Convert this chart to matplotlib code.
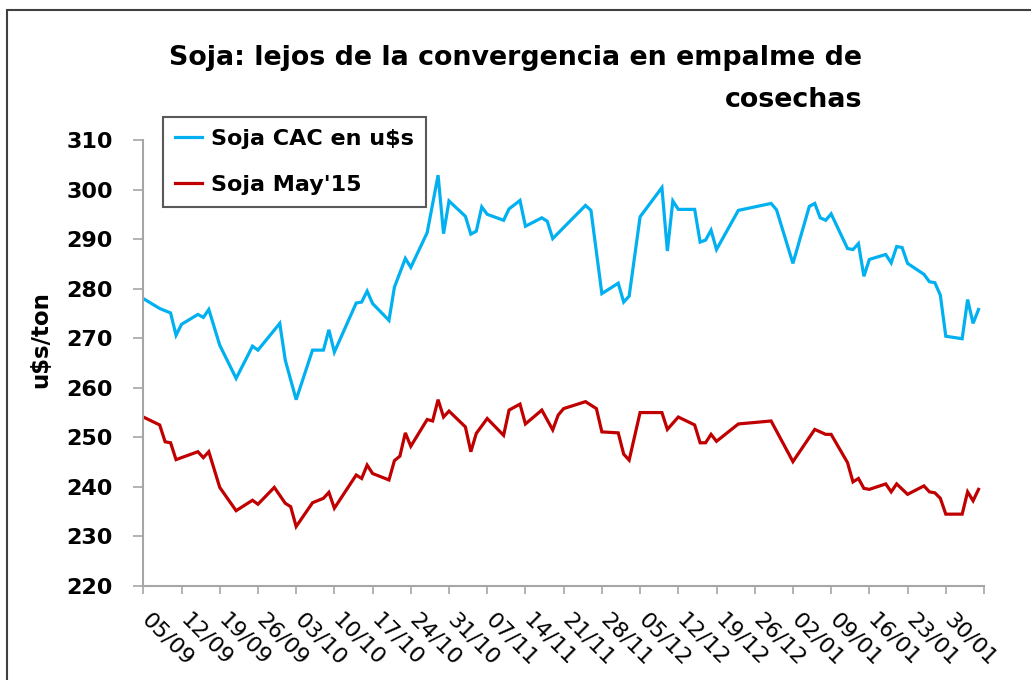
import matplotlib
matplotlib.use("Agg")
import matplotlib.pyplot as plt
import matplotlib.transforms as mtransforms
import pandas as pd
from matplotlib.patches import Rectangle

# Datos (vertices de cada serie)
fechas_cac = ["2014-09-05", "2014-09-08", "2014-09-10", "2014-09-11", "2014-09-12",
              "2014-09-15", "2014-09-16", "2014-09-17", "2014-09-19", "2014-09-22",
              "2014-09-24", "2014-09-25", "2014-09-26", "2014-09-30", "2014-10-01",
              "2014-10-03", "2014-10-06", "2014-10-08", "2014-10-09", "2014-10-10",
              "2014-10-14", "2014-10-15", "2014-10-16", "2014-10-17", "2014-10-20",
              "2014-10-21", "2014-10-23", "2014-10-24", "2014-10-27", "2014-10-29",
              "2014-10-30", "2014-10-31", "2014-11-03", "2014-11-04", "2014-11-05",
              "2014-11-06", "2014-11-07", "2014-11-10", "2014-11-11", "2014-11-13",
              "2014-11-14", "2014-11-17", "2014-11-18", "2014-11-19", "2014-11-25",
              "2014-11-26", "2014-11-28", "2014-12-01", "2014-12-02", "2014-12-03",
              "2014-12-05", "2014-12-09", "2014-12-10", "2014-12-11", "2014-12-12",
              "2014-12-15", "2014-12-16", "2014-12-17", "2014-12-18", "2014-12-19",
              "2014-12-23", "2014-12-29", "2014-12-30", "2015-01-02", "2015-01-05",
              "2015-01-06", "2015-01-07", "2015-01-08", "2015-01-09", "2015-01-12",
              "2015-01-13", "2015-01-14", "2015-01-15", "2015-01-16", "2015-01-19",
              "2015-01-20", "2015-01-21", "2015-01-22", "2015-01-23", "2015-01-26",
              "2015-01-27", "2015-01-28", "2015-01-29", "2015-01-30", "2015-02-02",
              "2015-02-03", "2015-02-04", "2015-02-05"]
soja_cac = [278.0, 276.0, 275.1, 270.6, 272.8,
            274.8, 274.2, 275.8, 268.6, 261.9,
            266.2, 268.4, 267.6, 273.0, 265.6,
            257.6, 267.6, 267.6, 271.7, 267.2,
            277.1, 277.3, 279.5, 277.0, 273.6,
            280.3, 286.1, 284.3, 291.3, 302.9,
            291.1, 297.7, 294.6, 291.0, 291.6,
            296.5, 295.0, 293.8, 296.1, 297.8,
            292.6, 294.3, 293.6, 290.1, 296.8,
            295.8, 279.0, 281.1, 277.3, 278.5,
            294.5, 300.4, 287.6, 297.7, 296.0,
            296.0, 289.4, 289.8, 291.8, 287.9,
            295.8, 297.2, 295.9, 285.1, 296.6,
            297.2, 294.3, 293.8, 295.1, 288.1,
            287.9, 289.1, 282.5, 285.9, 286.9,
            285.2, 288.5, 288.3, 285.1, 282.9,
            281.4, 281.2, 278.7, 270.4, 269.9,
            277.8, 273.0, 275.8]

fechas_may = ["2014-09-05", "2014-09-08", "2014-09-09", "2014-09-10", "2014-09-11",
              "2014-09-15", "2014-09-16", "2014-09-17", "2014-09-19", "2014-09-22",
              "2014-09-25", "2014-09-26", "2014-09-29", "2014-10-01", "2014-10-02",
              "2014-10-03", "2014-10-06", "2014-10-08", "2014-10-09", "2014-10-10",
              "2014-10-14", "2014-10-15", "2014-10-16", "2014-10-17", "2014-10-20",
              "2014-10-21", "2014-10-22", "2014-10-23", "2014-10-24", "2014-10-27",
              "2014-10-28", "2014-10-29", "2014-10-30", "2014-10-31", "2014-11-03",
              "2014-11-04", "2014-11-05", "2014-11-07", "2014-11-10", "2014-11-11",
              "2014-11-13", "2014-11-14", "2014-11-17", "2014-11-19", "2014-11-20",
              "2014-11-21", "2014-11-25", "2014-11-27", "2014-11-28", "2014-12-01",
              "2014-12-02", "2014-12-03", "2014-12-05", "2014-12-09", "2014-12-10",
              "2014-12-12", "2014-12-15", "2014-12-16", "2014-12-17", "2014-12-18",
              "2014-12-19", "2014-12-23", "2014-12-29", "2015-01-02", "2015-01-06",
              "2015-01-08", "2015-01-09", "2015-01-12", "2015-01-13", "2015-01-14",
              "2015-01-15", "2015-01-16", "2015-01-19", "2015-01-20", "2015-01-21",
              "2015-01-23", "2015-01-26", "2015-01-27", "2015-01-28", "2015-01-29",
              "2015-01-30", "2015-02-02", "2015-02-03", "2015-02-04", "2015-02-05"]
soja_may15 = [254.1, 252.5, 249.1, 248.9, 245.5,
              247.1, 245.9, 247.1, 239.9, 235.2,
              237.3, 236.5, 239.9, 236.7, 236.0,
              232.0, 236.8, 237.7, 238.9, 235.7,
              242.4, 241.7, 244.4, 242.7, 241.4,
              245.3, 246.2, 250.9, 248.2, 253.6,
              253.3, 257.6, 254.1, 255.3, 252.1,
              247.1, 250.8, 253.8, 250.4, 255.5,
              256.7, 252.7, 255.5, 251.5, 254.5,
              255.8, 257.2, 255.8, 251.1, 250.9,
              246.6, 245.4, 255.0, 255.0, 251.6,
              254.1, 252.5, 248.9, 248.9, 250.6,
              249.2, 252.7, 253.3, 245.1, 251.6,
              250.6, 250.6, 244.9, 241.0, 241.7,
              239.7, 239.5, 240.6, 239.0, 240.6,
              238.5, 240.2, 239.0, 238.8, 237.7,
              234.5, 234.5, 239.0, 237.2, 239.5]

tick_labels = ["05/09", "12/09", "19/09", "26/09", "03/10", "10/10", "17/10", "24/10",
               "31/10", "07/11", "14/11", "21/11", "28/11", "05/12", "12/12", "19/12",
               "26/12", "02/01", "09/01", "16/01", "23/01", "30/01", ""]
y_ticks = [220, 230, 240, 250, 260, 270, 280, 290, 300, 310]

W, H = 1031, 680
fig = plt.figure(figsize=(W / 100, H / 100), dpi=100)
ax = fig.add_axes([143.3 / W, 1 - 586 / H, (984 - 143.3) / W, (586 - 140) / H])

ax.plot(pd.to_datetime(fechas_cac), soja_cac, color="#00B0F0", lw=2.3,
        label="Soja CAC en u$s", solid_joinstyle="miter")
ax.plot(pd.to_datetime(fechas_may), soja_may15, color="#C00000", lw=2.3,
        label="Soja May'15", solid_joinstyle="miter")

ticks = pd.date_range("2014-09-05", "2015-02-06", freq="7D")
ax.set_xlim(ticks[0], ticks[-1])
ax.set_ylim(220, 310)

for s in ["top", "right"]:
    ax.spines[s].set_visible(False)
for s in ["left", "bottom"]:
    ax.spines[s].set_color("#A6A6A6")
    ax.spines[s].set_linewidth(1.5)
ax.tick_params(axis="y", direction="out", length=7, width=1.2, color="#A6A6A6", pad=15)
ax.tick_params(axis="x", direction="out", length=6, width=1.2, color="#A6A6A6", pad=11)

ax.set_yticks(y_ticks)
ax.set_yticklabels([str(v) for v in y_ticks], fontsize=16, fontweight="bold")
ax.set_xticks(ticks)
ax.set_xticklabels(tick_labels, fontsize=16, rotation=-45, ha="left", va="top",
                   rotation_mode="anchor")
# mover las etiquetas de fecha un poco a la derecha (como en Excel)
shift = mtransforms.ScaledTranslation(9 / 100, 0, fig.dpi_scale_trans)
for lbl in ax.get_xticklabels():
    lbl.set_transform(lbl.get_transform() + shift)

ax.set_ylabel("u$s/ton", fontsize=16.5, fontweight="bold", labelpad=0)
ax.yaxis.set_label_coords(52 / W, 0.5, transform=fig.transFigure)

fig.text(862 / W, 1 - 65 / H, "Soja: lejos de la convergencia en empalme de",
         ha="right", va="baseline", fontsize=19.4, fontweight="bold")
fig.text(862 / W, 1 - 107 / H, "cosechas",
         ha="right", va="baseline", fontsize=19.4, fontweight="bold")

leg = ax.legend(loc="upper left", bbox_to_anchor=(163 / W, 1 - 117 / H),
                bbox_transform=fig.transFigure, borderaxespad=0,
                prop={"size": 16, "weight": "bold"}, handlelength=1.2,
                handletextpad=0.4, labelspacing=1.17, borderpad=0.55,
                fancybox=False, framealpha=1)
leg.get_frame().set_edgecolor("#595959")
leg.get_frame().set_linewidth(1.5)

# marco del grafico
fig.patches.append(Rectangle((7 / W, -0.1), 1.2, 1.1 - 10 / H,
                             transform=fig.transFigure, fill=False,
                             edgecolor="#404040", lw=1.5, clip_on=False))

fig.savefig("out.png", dpi=100)
